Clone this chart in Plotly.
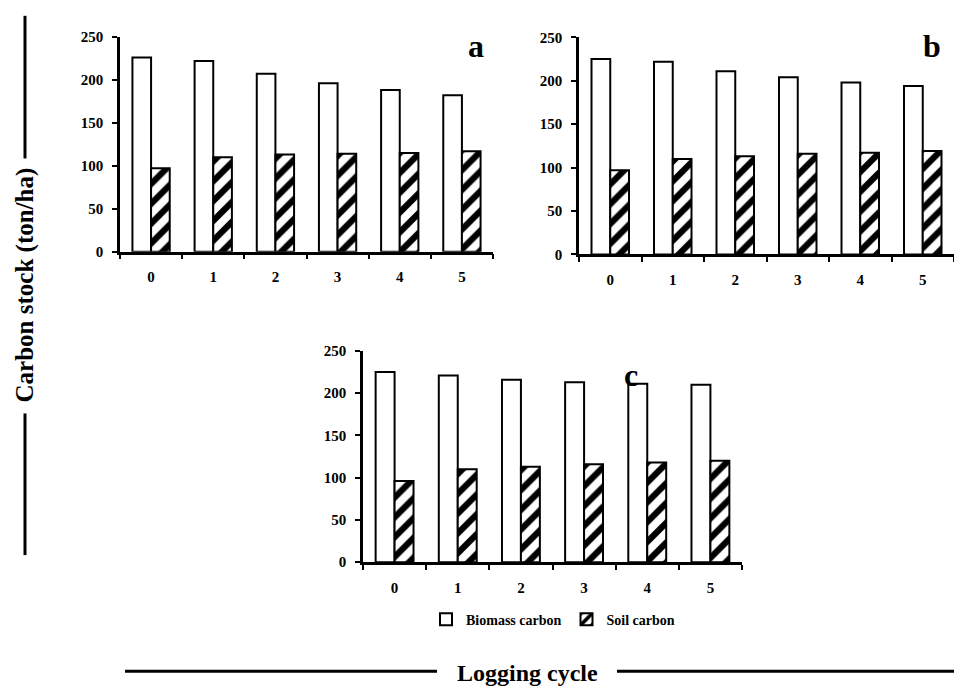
import plotly.graph_objects as go

W, H = 954, 694

cycles = ["0", "1", "2", "3", "4", "5"]
y_ticks = [0, 50, 100, 150, 200, 250]

a_biomass = [226, 222, 207, 196, 188, 182]
a_soil = [97, 110, 113, 114, 115, 117]
b_biomass = [225, 222, 211, 204, 198, 194]
b_soil = [97, 110, 113, 116, 117, 119]
c_biomass = [225, 221, 216, 213, 211, 210]
c_soil = [96, 110, 113, 116, 118, 120]

panels = [
    ("a", a_biomass, a_soil),
    ("b", b_biomass, b_soil),
    ("c", c_biomass, c_soil),
]

SERIF = "Liberation Serif"


def px_x(x):
    return x / W


def px_y(y):
    return (H - y) / H


# plot areas in pixel coordinates (left, right, top, bottom)
areas = [
    (120, 493, 29.5, 249.5),
    (579, 954, 30, 252.3),
    (363, 742, 351, 567.3),
]

fig = go.Figure()

for i, (name, bio, soil) in enumerate(panels):
    sfx = "" if i == 0 else str(i + 1)
    fig.add_trace(go.Bar(
        x=cycles, y=bio, name="Biomass carbon",
        xaxis="x" + sfx, yaxis="y" + sfx,
        marker=dict(color="white", line=dict(color="black", width=2)),
        showlegend=(i == 2),
    ))
    fig.add_trace(go.Bar(
        x=cycles, y=soil, name="Soil carbon",
        xaxis="x" + sfx, yaxis="y" + sfx,
        marker=dict(color="white", line=dict(color="black", width=2),
                    pattern=dict(shape="/", fgcolor="black", bgcolor="white",
                                 fgopacity=1, size=14, solidity=0.45)),
        showlegend=(i == 2),
    ))

layout = dict(
    width=W, height=H,
    margin=dict(l=0, r=0, t=0, b=0),
    paper_bgcolor="white", plot_bgcolor="white",
    barmode="group", bargap=0.4, bargroupgap=0.0,
    font=dict(family=SERIF, color="black"),
    showlegend=True,
    legend=dict(orientation="h", x=px_x(553), y=px_y(626),
                xanchor="center", yanchor="middle",
                font=dict(family=SERIF, size=14, color="black", weight="bold"),
                itemwidth=30, tracegroupgap=0, bgcolor="rgba(0,0,0,0)"),
)

for i, (l, r, t, b) in enumerate(areas):
    sfx = "" if i == 0 else str(i + 1)
    layout["xaxis" + sfx] = dict(
        domain=[px_x(l), px_x(r)], anchor="y" + sfx,
        type="category", tickson="boundaries",
        showline=True, linecolor="black", linewidth=2.5,
        ticks="outside", ticklen=5, tickwidth=2, tickcolor="black",
        showgrid=False, zeroline=False,
        ticklabelstandoff=10,
        tickfont=dict(family=SERIF, size=15, color="black", weight="bold"),
    )
    layout["yaxis" + sfx] = dict(
        domain=[px_y(b), px_y(t)], anchor="x" + sfx,
        range=[0, 250], tickvals=y_ticks,
        showline=True, linecolor="black", linewidth=2.5,
        ticks="outside", ticklen=5, tickwidth=2, tickcolor="black",
        showgrid=False, zeroline=False,
        ticklabelstandoff=6,
        tickfont=dict(family=SERIF, size=15, color="black", weight="bold"),
    )

fig.update_layout(**layout)

annotations = [
    dict(text="<b>a</b>", x=px_x(476), y=px_y(39)),
    dict(text="<b>b</b>", x=px_x(932), y=px_y(39)),
    dict(text="<b>c</b>", x=px_x(631), y=px_y(376)),
]
for a in annotations:
    fig.add_annotation(xref="paper", yref="paper", showarrow=False,
                       xanchor="center", yanchor="middle",
                       font=dict(family=SERIF, size=32, color="black"), **a)

fig.add_annotation(xref="paper", yref="paper", showarrow=False,
                   text="<b>Carbon stock (ton/ha)</b>", textangle=-90,
                   x=px_x(25), y=px_y(284), xanchor="center", yanchor="middle",
                   font=dict(family=SERIF, size=25, color="black"))
fig.add_annotation(xref="paper", yref="paper", showarrow=False,
                   text="<b>Logging cycle</b>",
                   x=px_x(527), y=px_y(681), xanchor="center", yanchor="middle",
                   font=dict(family=SERIF, size=24, color="black"))

line_style = dict(color="black", width=3)
for (x0, y0, x1, y1) in [(25, 8, 25, 154), (25, 415, 25, 560),
                         (125, 679, 437, 679), (617, 679, 954, 679)]:
    fig.add_shape(type="line", xref="paper", yref="paper",
                  x0=px_x(x0), y0=px_y(y0), x1=px_x(x1), y1=px_y(y1),
                  line=line_style)

fig.write_html("out.html")
